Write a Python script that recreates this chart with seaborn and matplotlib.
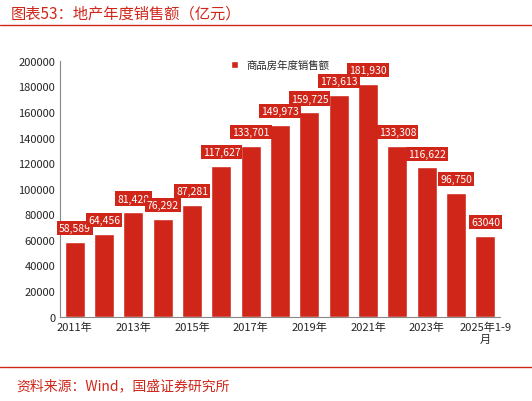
import matplotlib
matplotlib.use('Agg')
import matplotlib.pyplot as plt
import seaborn as sns
import pandas as pd

years = ['2011年', '2012年', '2013年', '2014年', '2015年', '2016年', '2017年', '2018年',
         '2019年', '2020年', '2021年', '2022年', '2023年', '2024年', '2025年1-9\n月']
sales = [58589, 64456, 81428, 76292, 87281, 117627, 133701, 149973,
         159725, 173613, 181930, 133308, 116622, 96750, 63040]
labels = ['58,589', '64,456', '81,428', '76,292', '87,281', '117,627', '133,701', '149,973',
          '159,725', '173,613', '181,930', '133,308', '116,622', '96,750', '63040']

sns.set_style('white')
plt.rcParams['font.family'] = ['Noto Sans CJK SC', 'DejaVu Sans']
red = '#D0261A'

df = pd.DataFrame({'year': years, 'sales': sales})
fig = plt.figure(figsize=(5.32, 4.02), dpi=100)
ax = fig.add_axes([0.113, 0.21, 0.827, 0.636])
sns.barplot(data=df, x='year', y='sales', color=red, width=0.68, ax=ax,
            label='商品房年度销售额', saturation=1)

for i, (v, t) in enumerate(zip(sales, labels)):
    ax.annotate(t, (i, v), xytext=(0, 10), textcoords='offset points', ha='center',
                va='center', fontsize=7.5, color='white',
                bbox=dict(boxstyle='square,pad=0.2', fc=red, ec='none'))

ax.set_ylim(0, 200000)
ax.set_yticks(range(0, 200001, 20000))
ax.tick_params(axis='y', labelsize=8, length=0)
ax.set_xticks(range(0, 15, 2))
ax.set_xticklabels(years[::2], fontsize=8)
ax.tick_params(axis='x', length=3, direction='in')
ax.set_xlabel('')
ax.set_ylabel('')
for s in ['top', 'right']:
    ax.spines[s].set_visible(False)
ax.spines['left'].set_color('#888888')
ax.spines['bottom'].set_color('#888888')
ax.legend(loc='upper center', frameon=False, fontsize=7.5, handlelength=0.7,
          handleheight=0.7, bbox_to_anchor=(0.5, 1.04))

fig.text(0.02, 0.955, '图表53：地产年度销售额（亿元）', color=red, fontsize=11, style='italic')
fig.add_artist(plt.Line2D([0.0, 1.0], [0.935, 0.935], color=red, lw=1))
fig.add_artist(plt.Line2D([0.0, 1.0], [0.085, 0.085], color=red, lw=1))
fig.text(0.03, 0.03, '资料来源：Wind，国盛证券研究所', color=red, fontsize=10, style='italic')

fig.savefig('out.png', dpi=100)
